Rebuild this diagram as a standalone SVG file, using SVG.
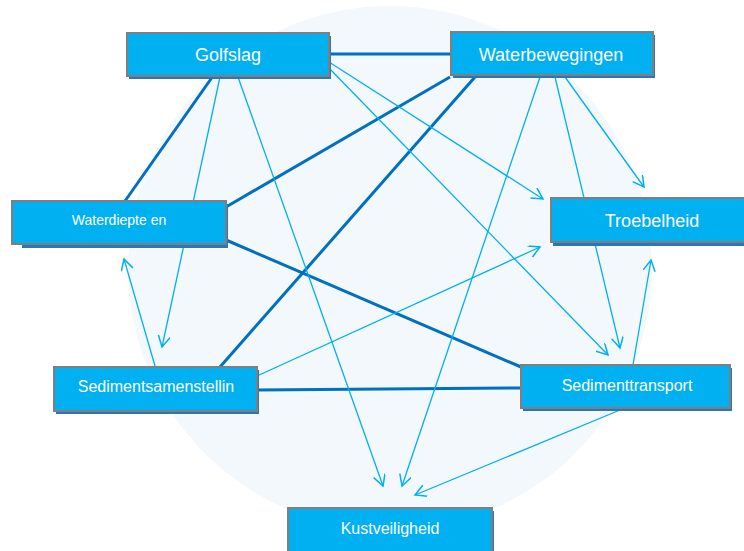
<svg xmlns="http://www.w3.org/2000/svg" width="744" height="551" viewBox="0 0 744 551">
<style>
.box{fill:#00B0F0;stroke:#7F7F7F;stroke-width:2}
.sh{fill:#2E75B6}
.t{fill:#FFFFFF;font-family:"Liberation Sans",Arial,sans-serif;text-anchor:middle}
.thick{stroke:#0070C0;stroke-width:3;fill:none}
.thin{stroke:#00B0F0;stroke-width:1.3;fill:none;marker-end:url(#ah)}
</style>
<defs>
<marker id="ah" markerUnits="userSpaceOnUse" markerWidth="16" markerHeight="16" refX="12" refY="6" orient="auto">
<path d="M1,0 L12,6 L1,12" fill="none" stroke="#00B0F0" stroke-width="1.5"/>
</marker>
</defs>
<rect width="744" height="551" fill="#FFFFFF"/>
<circle cx="390" cy="268" r="262" fill="#F3F8FC"/>
<g id="connectors">
<line class="thick" x1="329" y1="54" x2="451" y2="54"/>
<line class="thick" x1="213" y1="76" x2="125" y2="201"/>
<line class="thick" x1="450" y1="77" x2="226" y2="207"/>
<line class="thick" x1="475" y1="77" x2="220" y2="367"/>
<line class="thick" x1="226" y1="240" x2="521" y2="367"/>
<line class="thick" x1="257" y1="390" x2="521" y2="388"/>
<line class="thin" x1="220" y1="77" x2="162" y2="347"/>
<line class="thin" x1="238" y1="77" x2="383" y2="486"/>
<line class="thin" x1="329" y1="62" x2="543" y2="199"/>
<line class="thin" x1="329" y1="68" x2="608" y2="355"/>
<line class="thin" x1="540" y1="77" x2="402" y2="486"/>
<line class="thin" x1="555" y1="77" x2="620" y2="348"/>
<line class="thin" x1="565" y1="77" x2="644" y2="187"/>
<line class="thin" x1="155" y1="366" x2="124" y2="259"/>
<line class="thin" x1="257" y1="376" x2="540" y2="247"/>
<line class="thin" x1="633" y1="365" x2="651" y2="260"/>
<line class="thin" x1="620" y1="410" x2="415" y2="495"/>
</g>
<g id="golfslag">
<rect class="sh" x="129" y="36" width="202" height="43"/>
<rect class="box" x="127" y="33" width="202" height="43"/>
<text class="t" x="228" y="61" font-size="18">Golfslag</text>
</g>
<g id="waterbewegingen">
<rect class="sh" x="453" y="35" width="202" height="43"/>
<rect class="box" x="451" y="32" width="202" height="43"/>
<text class="t" x="551" y="61" font-size="18">Waterbewegingen</text>
</g>
<g id="waterdiepte">
<rect class="sh" x="22" y="204" width="206" height="44"/>
<rect class="box" x="12" y="201" width="214" height="43"/>
<text class="t" x="119" y="225" font-size="14">Waterdiepte en</text>
</g>
<g id="troebelheid">
<rect class="sh" x="553" y="201" width="200" height="45"/>
<rect class="box" x="551" y="198" width="200" height="44"/>
<text class="t" x="652" y="227" font-size="18">Troebelheid</text>
</g>
<g id="sedimentsamenstelling">
<rect class="sh" x="56" y="370" width="203" height="44"/>
<rect class="box" x="54" y="367" width="203" height="44"/>
<text class="t" x="156" y="392" font-size="16">Sedimentsamenstellin</text>
</g>
<g id="sedimenttransport">
<rect class="sh" x="523" y="368" width="209" height="43"/>
<rect class="box" x="521" y="365" width="209" height="43"/>
<text class="t" x="627" y="391" font-size="16">Sedimenttransport</text>
</g>
<g id="kustveiligheid">
<rect class="sh" x="290" y="511" width="204" height="50"/>
<rect class="box" x="288" y="508" width="204" height="50"/>
<text class="t" x="390" y="534" font-size="16">Kustveiligheid</text>
</g>
</svg>
